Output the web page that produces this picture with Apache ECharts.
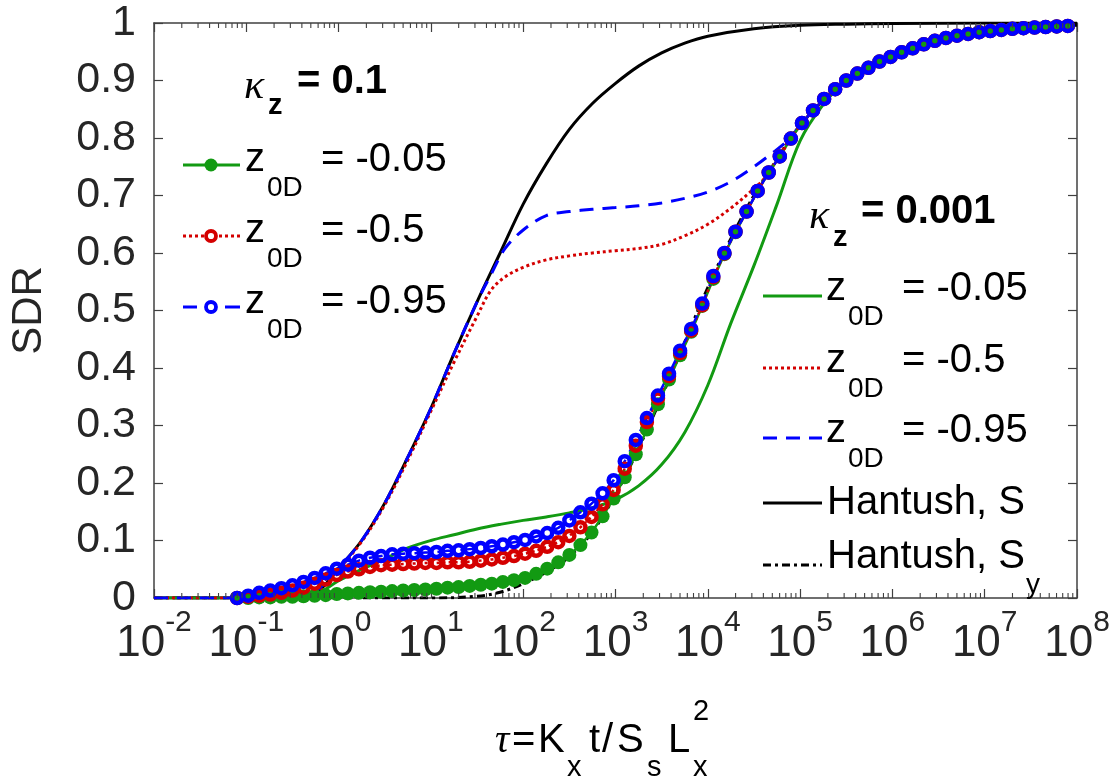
<!DOCTYPE html>
<html><head><meta charset="utf-8">
<script src="https://cdn.jsdelivr.net/npm/echarts@6/dist/echarts.min.js"></script>
<style>html,body{margin:0;padding:0;background:#fff}#c{width:1119px;height:781px}</style>
</head><body><div id="c"></div>
<script>
// ---------------- data (x values stored as log10(tau)) ----------------
const xTickExps = [-2,-1,0,1,2,3,4,5,6,7,8];
const yTicks = [0,0.1,0.2,0.3,0.4,0.5,0.6,0.7,0.8,0.9,1];

// kappa_z = 0.1 (marker curves), common tau grid
const markerExp = [-1.1,-0.98,-0.86,-0.74,-0.62,-0.5,-0.38,-0.26,-0.14,-0.02,
  0.1,0.22,0.34,0.46,0.58,0.7,0.82,0.94,
  1.06,1.18,1.3,1.42,1.54,1.66,1.78,1.9,
  2.02,2.14,2.26,2.38,2.5,2.62,2.74,2.86,2.98,
  3.1,3.22,3.34,3.46,3.58,3.7,3.82,3.94,
  4.06,4.18,4.3,4.42,4.54,4.66,4.78,4.9,
  5.02,5.14,5.26,5.38,5.5,5.62,5.74,5.86,5.98,
  6.1,6.22,6.34,6.46,6.58,6.7,6.82,6.94,
  7.06,7.18,7.3,7.42,7.54,7.66,7.78,7.9];
const k01_z005 = [0.000,0.000,0.001,0.001,0.002,0.002,0.003,0.004,0.005,0.007,
  0.008,0.009,0.010,0.011,0.012,0.013,0.014,0.015,
  0.016,0.018,0.019,0.021,0.023,0.025,0.028,0.031,
  0.035,0.042,0.051,0.062,0.075,0.092,0.114,0.142,0.173,
  0.210,0.250,0.293,0.337,0.380,0.422,0.463,0.508,
  0.555,0.598,0.636,0.672,0.708,0.740,0.768,0.799,
  0.826,0.848,0.868,0.885,0.900,0.912,0.922,0.933,0.941,
  0.949,0.956,0.963,0.969,0.974,0.978,0.981,0.984,
  0.986,0.988,0.990,0.991,0.992,0.993,0.994,0.995];
const k01_z05 = [0.000,0.002,0.004,0.006,0.009,0.013,0.018,0.025,0.032,0.040,
  0.046,0.050,0.054,0.057,0.058,0.059,0.060,0.061,
  0.061,0.062,0.062,0.063,0.065,0.067,0.070,0.073,
  0.077,0.082,0.089,0.097,0.108,0.123,0.141,0.163,0.188,
  0.225,0.265,0.306,0.347,0.386,0.426,0.465,0.509,
  0.558,0.599,0.637,0.672,0.708,0.740,0.768,0.799,
  0.826,0.848,0.868,0.885,0.900,0.912,0.922,0.933,0.941,
  0.949,0.956,0.963,0.969,0.974,0.978,0.981,0.984,
  0.986,0.988,0.990,0.991,0.992,0.993,0.994,0.995];
const k01_z095 = [0.000,0.004,0.009,0.013,0.017,0.022,0.028,0.035,0.043,0.051,
  0.058,0.065,0.070,0.073,0.076,0.077,0.078,0.079,
  0.080,0.082,0.083,0.085,0.087,0.090,0.093,0.097,
  0.101,0.107,0.113,0.122,0.135,0.149,0.164,0.182,0.205,
  0.238,0.275,0.313,0.352,0.390,0.430,0.468,0.512,
  0.560,0.600,0.637,0.672,0.708,0.740,0.768,0.799,
  0.826,0.848,0.868,0.885,0.900,0.912,0.922,0.933,0.941,
  0.949,0.956,0.963,0.969,0.974,0.978,0.981,0.984,
  0.986,0.988,0.990,0.991,0.992,0.993,0.994,0.995];

// kappa_z = 0.001 (line curves)
const k0001_z005_exp = [-2,-1,-0.5,-0.25,0,0.25,0.5,0.75,1,1.25,1.5,1.75,2,2.25,2.5,2.75,3,3.25,3.5,3.75,4,4.25,4.5,4.75,5,5.25,5.5,5.75,6,6.5,7,7.5,7.9];
const k0001_z005 = [0,0,0.001,0.006,0.03,0.05,0.068,0.087,0.1,0.11,0.12,0.128,0.135,0.141,0.148,0.157,0.171,0.195,0.232,0.288,0.37,0.478,0.578,0.685,0.795,0.858,0.9,0.923,0.942,0.97,0.985,0.992,0.995];
const k0001_z05_exp = [-2,-1,-0.5,-0.25,0,0.25,0.5,0.75,1,1.25,1.5,1.65,1.8,2,2.25,2.5,2.75,3,3.25,3.5,3.75,4,4.25,4.5,4.625,4.75,4.875,5,5.25,5.5,6,6.5,7,7.5,7.9];
const k0001_z05 = [0,0,0.001,0.008,0.05,0.098,0.162,0.24,0.325,0.41,0.49,0.535,0.558,0.575,0.588,0.595,0.6,0.604,0.608,0.615,0.63,0.65,0.678,0.712,0.732,0.763,0.795,0.822,0.866,0.9,0.942,0.97,0.985,0.992,0.995];
const k0001_z095_exp = [-2,-1,-0.5,-0.25,0,0.25,0.5,0.75,1,1.25,1.5,1.65,1.8,2,2.25,2.5,2.75,3,3.25,3.5,3.75,4,4.25,4.5,4.7,4.875,5,5.25,5.5,6,6.5,7,7.5,7.9];
const k0001_z095 = [0,0,0.001,0.012,0.052,0.1,0.165,0.245,0.33,0.425,0.515,0.562,0.607,0.64,0.665,0.672,0.676,0.679,0.682,0.687,0.695,0.706,0.724,0.75,0.774,0.797,0.822,0.866,0.9,0.942,0.97,0.985,0.992,0.995];

// Hantush reference curves
const hantushS_exp = [-2,-1.5,-1,-0.75,-0.5,-0.25,0,0.25,0.5,0.75,1,1.25,1.5,1.75,2,2.25,2.5,2.75,3,3.25,3.5,3.75,4,4.5,5,5.5,6,7,8];
const hantushS = [0,0,0,0,0.001,0.008,0.052,0.1,0.165,0.245,0.33,0.425,0.515,0.6,0.685,0.755,0.815,0.86,0.895,0.925,0.948,0.965,0.977,0.99,0.996,0.998,0.999,1,1];
const hantushSy_exp = [-2,0,1,1.5,1.75,2,2.25,2.5,2.75,3,3.25,3.5,3.75,4,4.25,4.5,4.75,5,5.5,6,6.5,7,7.5,8];
const hantushSy = [0,0,0,0.003,0.01,0.025,0.045,0.072,0.115,0.18,0.26,0.35,0.445,0.54,0.625,0.7,0.763,0.822,0.9,0.942,0.97,0.985,0.992,0.996];

// ---------------- chart ----------------
const FONT = "'Liberation Sans', Arial, Helvetica, sans-serif";
const SERIF = "'Liberation Serif', serif";
const AX = '#404040';
const GREEN = '#129a12', RED = '#d40000', BLUE = '#0000ff', BLACK = '#000000';
const pairs = (ex, v) => ex.map((e, i) => [Math.pow(10, e), v[i]]);

const G = {left: 149, top: 23, right: 1077, bottom: 598};

const minorVals = [];
for (let d = -2; d < 8; d++) for (let m = 2; m <= 9; m++) minorVals.push([m * Math.pow(10, d), 0]);

function markerSeries(name, vals, color, dash, filled) {
  return {
    name, type: 'line', data: pairs(markerExp, vals), clip: false,
    showSymbol: true, showAllSymbol: true, symbol: 'circle',
    symbolSize: filled ? 14 : 10,
    lineStyle: {color, width: 2.5, type: dash},
    itemStyle: filled ? {color, borderWidth: 0} : {color: 'rgba(255,255,255,0)', borderColor: color, borderWidth: 4.5},
    emphasis: {disabled: true}, z: 3
  };
}
function lineSeries(name, ex, vals, color, dash, z) {
  return {name, type: 'line', data: pairs(ex, vals), showSymbol: false, smooth: 0.35,
    lineStyle: {color, width: 3, type: dash}, itemStyle: {color}, emphasis: {disabled: true}, z: z || 2};
}

const mctx = document.createElement('canvas').getContext('2d');
function tw(s, size, fam, style, weight) {
  mctx.font = (style || 'normal') + ' ' + (weight || 'normal') + ' ' + size + 'px ' + (fam || FONT);
  return mctx.measureText(s).width;
}
function T(x, y, s, o) {
  return {type: 'text', x, y, silent: true, z: 100,
    style: Object.assign({text: s, fontSize: 40, fontFamily: FONT, fill: '#000', align: 'left', verticalAlign: 'middle'}, o || {})};
}
const graphics = [];
// kappa 0.1 header
graphics.push(T(244, 87, 'κ', {fontFamily: SERIF, fontStyle: 'italic', fontSize: 42}));
graphics.push(T(268, 106, 'z', {fontWeight: 'bold', fontSize: 29}));
graphics.push(T(297, 82, '= 0.1', {fontWeight: 'bold', fontSize: 40}));
// legend 1
const leg1 = [
  {y: 160, val: '= -0.05', color: GREEN, kind: 'solid', filled: true},
  {y: 231, val: '= -0.5', color: RED, kind: 'dot', filled: false},
  {y: 302, val: '= -0.95', color: BLUE, kind: 'dash', filled: false}
];
leg1.forEach(r => {
  const ly = r.y + 5;
  if (r.kind === 'solid') {
    graphics.push({type: 'line', silent: true, z: 100, shape: {x1: 183, y1: ly, x2: 240, y2: ly}, style: {stroke: r.color, lineWidth: 3}});
  } else if (r.kind === 'dot') {
    graphics.push({type: 'line', silent: true, z: 100, shape: {x1: 183, y1: ly, x2: 240, y2: ly}, style: {stroke: r.color, lineWidth: 3, lineDash: [3, 3]}});
  } else {
    graphics.push({type: 'line', silent: true, z: 100, shape: {x1: 183, y1: ly, x2: 197, y2: ly}, style: {stroke: r.color, lineWidth: 3}});
    graphics.push({type: 'line', silent: true, z: 100, shape: {x1: 225, y1: ly, x2: 240, y2: ly}, style: {stroke: r.color, lineWidth: 3}});
  }
  graphics.push({type: 'circle', silent: true, z: 101, shape: {cx: 211, cy: ly, r: r.filled ? 6.5 : 5},
    style: r.filled ? {fill: r.color} : {fill: '#fff', stroke: r.color, lineWidth: 3.8}});
  graphics.push(T(245, r.y, 'z'));
  graphics.push(T(267, r.y + 28, '0D', {fontSize: 28}));
  graphics.push(T(321, r.y, r.val));
});
// kappa 0.001 header
graphics.push(T(809, 217, 'κ', {fontFamily: SERIF, fontStyle: 'italic', fontSize: 42}));
graphics.push(T(833, 238, 'z', {fontWeight: 'bold', fontSize: 29}));
graphics.push(T(861, 212, '= 0.001', {fontWeight: 'bold', fontSize: 40}));
// legend 2
const leg2 = [
  {y: 289, val: '= -0.05', color: GREEN, dash: null, z: true},
  {y: 361, val: '= -0.5', color: RED, dash: [3, 3], z: true},
  {y: 431, val: '= -0.95', color: BLUE, dash: [14, 9], z: true},
  {y: 503, val: 'Hantush, S', color: BLACK, dash: null, z: false},
  {y: 557, val: 'Hantush, S', color: BLACK, dash: [8, 4, 3, 4], z: false, sub: 'y'}
];
leg2.forEach(r => {
  const ly = r.z ? r.y + 7 : r.y + (r.sub ? 8 : 0);
  const st = {stroke: r.color, lineWidth: 3};
  if (r.dash) st.lineDash = r.dash;
  graphics.push({type: 'line', silent: true, z: 100, shape: {x1: 763, y1: ly, x2: 822, y2: ly}, style: st});
  if (r.z) {
    graphics.push(T(826, r.y, 'z'));
    graphics.push(T(848, r.y + 28, '0D', {fontSize: 28}));
    graphics.push(T(902, r.y, r.val));
  } else {
    graphics.push(T(827, r.y, r.val));
    if (r.sub) graphics.push(T(827 + tw(r.val, 40) + 1, r.y + 28, r.sub, {fontSize: 28}));
  }
});
// x-axis title: tau = K_x t / S_s L_x^2
(function () {
  const F = 40, S = 29, yc = 741, ys = 768, yp = 712;
  const parts = [
    {s: 'τ', x: 495, f: F, fam: SERIF, it: true, y: yc},
    {s: '=', x: 512, f: F, y: yc},
    {s: 'K', x: 538, f: F, y: yc},
    {s: 'x', x: 567, f: S, y: ys},
    {s: 't', x: 589, f: F, y: yc},
    {s: '/', x: 602, f: F, y: yc},
    {s: 'S', x: 617, f: F, y: yc},
    {s: 's', x: 647, f: S, y: ys},
    {s: 'L', x: 668, f: F, y: yc},
    {s: 'x', x: 693, f: S, y: ys},
    {s: '2', x: 693, f: S, y: yp}
  ];
  parts.forEach(p => {
    graphics.push(T(p.x, p.y, p.s, Object.assign({fontSize: p.f}, p.fam ? {fontFamily: p.fam} : {}, p.it ? {fontStyle: 'italic'} : {})));
  });
})();

const chart = echarts.init(document.getElementById('c'), null, {renderer: 'canvas'});
chart.setOption({
  animation: false,
  backgroundColor: '#fff',
  textStyle: {fontFamily: FONT},
  grid: {left: G.left, top: G.top, right: 1119 - G.right, bottom: 781 - G.bottom, containLabel: false},
  xAxis: [{
    type: 'log', logBase: 10, min: 0.01, max: 1e8, interval: 1, splitNumber: 10,
    position: 'bottom',
    axisLine: {show: true, onZero: false, lineStyle: {color: AX, width: 1.5}},
    axisTick: {show: true, inside: true, length: 9, lineStyle: {color: AX, width: 1.2}},
    splitLine: {show: false},
    axisLabel: {
      show: true, interval: 0, margin: 2, color: '#262626',
      formatter: v => '{b|10}{s|' + Math.round(Math.log10(v)) + '}',
      rich: {
        b: {fontSize: 44, fontFamily: FONT, color: '#262626', padding: [22, 0, 0, 0]},
        s: {fontSize: 30, fontFamily: FONT, color: '#262626', padding: [0, 0, 20, 0]}
      }
    }
  }, {
    type: 'log', logBase: 10, min: 0.01, max: 1e8, interval: 1, splitNumber: 10,
    position: 'top',
    axisLine: {show: true, onZero: false, lineStyle: {color: AX, width: 1.5}},
    axisTick: {show: true, inside: true, length: 9, lineStyle: {color: AX, width: 1.2}},
    axisLabel: {show: false}, splitLine: {show: false}
  }],
  yAxis: [{
    type: 'value', min: 0, max: 1, interval: 0.1,
    name: 'SDR', nameLocation: 'middle', nameGap: 104, nameRotate: 90,
    nameTextStyle: {fontSize: 42, fontFamily: FONT, color: '#262626'},
    axisLine: {show: true, onZero: false, lineStyle: {color: AX, width: 1.5}},
    axisTick: {show: true, inside: true, length: 9, lineStyle: {color: AX, width: 1.2}},
    splitLine: {show: false},
    axisLabel: {fontSize: 43, fontFamily: FONT, color: '#262626', margin: 18,
      formatter: v => String(Math.round(v * 10) / 10)}
  }, {
    type: 'value', min: 0, max: 1, interval: 0.1, position: 'right',
    axisLine: {show: true, onZero: false, lineStyle: {color: AX, width: 1.5}},
    axisTick: {show: true, inside: true, length: 9, lineStyle: {color: AX, width: 1.2}},
    axisLabel: {show: false}, splitLine: {show: false}
  }],
  series: [
    lineSeries('Hantush, Sy', hantushSy_exp, hantushSy, BLACK, [8, 4, 3, 4], 1),
    lineSeries('Hantush, S', hantushS_exp, hantushS, BLACK, 'solid', 1),
    lineSeries('κz=0.001, z0D=-0.05', k0001_z005_exp, k0001_z005, GREEN, 'solid', 2),
    lineSeries('κz=0.001, z0D=-0.5', k0001_z05_exp, k0001_z05, RED, [3, 3], 2),
    lineSeries('κz=0.001, z0D=-0.95', k0001_z095_exp, k0001_z095, BLUE, [14, 9], 2),
    markerSeries('κz=0.1, z0D=-0.05', k01_z005, GREEN, 'solid', true),
    markerSeries('κz=0.1, z0D=-0.5', k01_z05, RED, [3, 3], false),
    markerSeries('κz=0.1, z0D=-0.95', k01_z095, BLUE, [14, 9], false),
    {
      name: 'minor ticks', type: 'custom', data: minorVals, silent: true, clip: false, z: 5,
      renderItem: (params, api) => {
        const v = api.value(0);
        const b = api.coord([v, 0]);
        const t = api.coord([v, 1]);
        const st = {stroke: AX, lineWidth: 1.1};
        return {type: 'group', children: [
          {type: 'line', shape: {x1: b[0], y1: b[1], x2: b[0], y2: b[1] - 5}, style: st},
          {type: 'line', shape: {x1: t[0], y1: t[1], x2: t[0], y2: t[1] + 5}, style: st}
        ]};
      }
    }
  ],
  graphic: graphics
});
</script>
</body></html>
